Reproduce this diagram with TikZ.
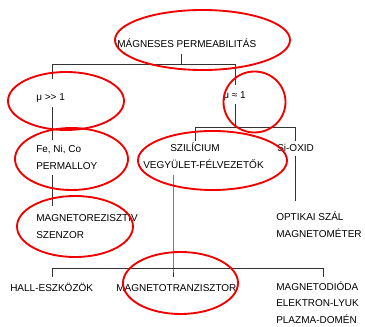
\documentclass[tikz,border=0pt]{standalone}
\usepackage{fontspec}
\setmainfont{Liberation Sans}
\usetikzlibrary{calc}
\tikzset{
  lbl/.style={anchor=west, inner sep=0pt, text height=5.4pt, text depth=0pt, font=\fontsize{7.5}{9}\selectfont, text=black},
  conn/.style={draw=black!80, line width=0.6pt},
  ring/.style={draw=red!95!black, line width=1.4pt}
}
\begin{document}
\begin{tikzpicture}[x=0.75pt,y=-0.75pt]
\useasboundingbox (0,0) rectangle (365,327);
% texts
\node[lbl] (title) at (117,44) {MÁGNESES PERMEABILITÁS};
\node[lbl] (mu1) at (36,97) {μ >{}> 1};
\node[lbl] (mu2) at (223,95) {μ ≈ 1};
\node[lbl] (fe) at (36,149) {Fe, Ni, Co};
\node[lbl] (perm) at (36,166) {PERMALLOY};
\node[lbl] (szil) at (170,148) {SZILÍCIUM};
\node[lbl] (vegy) at (143,165) {VEGYÜLET-FÉLVEZETŐK};
\node[lbl] (sio) at (277,148) {Si-OXID};
\node[lbl] (mrz) at (36,218) {MAGNETOREZISZTIV};
\node[lbl] (szen) at (36,235) {SZENZOR};
\node[lbl] (opt) at (276,217) {OPTIKAI SZÁL};
\node[lbl] (mgm) at (276,234) {MAGNETOMÉTER};
\node[lbl] (hall) at (10,288) {HALL-ESZKÖZÖK};
\node[lbl] (mtr) at (116,288) {MAGNETOTRANZISZTOR};
\node[lbl] (mdio) at (276,287) {MAGNETODIÓDA};
\node[lbl] (elek) at (276,303) {ELEKTRON-LYUK};
\node[lbl] (plaz) at (276,320) {PLAZMA-DOMÉN};
% junction points
\coordinate (t0) at (181,64);
\coordinate (tl) at (52,64);
\coordinate (tr) at (235,64);
\coordinate (sa) at (195,127);
\coordinate (sr) at (235,127);
\coordinate (sb) at (295,127);
\coordinate (h1) at (52,268);
\coordinate (m0) at (173,268);
\coordinate (h2) at (323,268);
% connectors
\draw[conn] ($(title.south -| t0)+(0,6)$) -- (t0);
\draw[conn] (tl) -- (tr);
\draw[conn] (tl) -- ($(tl |- mu1.north)+(0,-14)$);
\draw[conn] ($(tl |- mu1.south)+(0,6)$) -- ($(tl |- fe.north)+(0,-5)$);
\draw[conn] (tr) -- ($(tr |- mu2.north)+(0,-6)$);
\draw[conn] ($(tr |- mu2.south)+(0,5)$) -- (sr);
\draw[conn] (sa) -- (sb);
\draw[conn] (sa) -- ($(sa |- szil.north)+(0,-3)$);
\draw[conn] (sb) -- ($(sb |- sio.north)+(0,-3)$);
\draw[conn] ($(sb |- sio.south)+(0,4)$) -- ($(sb |- opt.north)+(0,-12)$);
\draw[conn] ($(tl |- perm.south)+(0,5)$) -- ($(tl |- mrz.north)+(0,-8)$);
\draw[conn] ($(m0 |- vegy.south)+(0,6)$) -- (m0) -- ($(m0 |- mtr.north)+(0,-7)$);
\draw[conn] (h1) -- (h2);
\draw[conn] (h1) -- ($(h1 |- hall.north)+(0,-7)$);
\draw[conn] (h2) -- ($(h2 |- mdio.north)+(0,-6)$);
% red rings
\draw[ring] (202.5,40) ellipse [x radius=87.5, y radius=30];
\draw[ring] (66,101) ellipse [x radius=58, y radius=29];
\draw[ring] (254.5,102) ellipse [x radius=31, y radius=30.5];
\draw[ring] (71.5,159) ellipse [x radius=56.5, y radius=31];
\draw[ring] (212.5,160.5) ellipse [x radius=74.5, y radius=29.5];
\draw[ring] (75,226.5) ellipse [x radius=58, y radius=30.5];
\draw[ring] (180.5,283) ellipse [x radius=57.5, y radius=31];
\end{tikzpicture}
\end{document}
